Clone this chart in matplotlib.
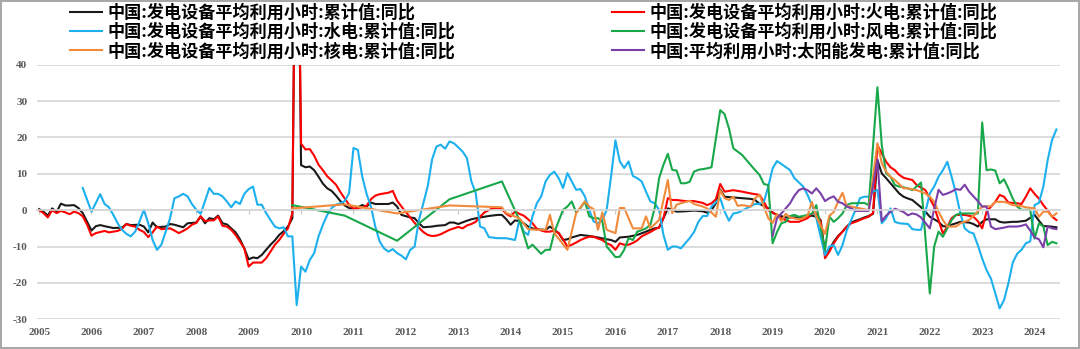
import matplotlib
matplotlib.use('Agg')
import matplotlib.pyplot as plt
from matplotlib.font_manager import FontProperties

plt.rcParams['font.family'] = ['Liberation Serif', 'DejaVu Serif']
plt.rcParams['axes.unicode_minus'] = False

# values, yoy %, by month ('YYYY-MM')
total_months = ['2005-01', '2005-02', '2005-03', '2005-04', '2005-05', '2005-06', '2005-07', '2005-08', '2005-09', '2005-10', '2005-11', '2005-12',
                '2006-01', '2006-02', '2006-03', '2006-04', '2006-06', '2006-08', '2006-09', '2006-10', '2006-12',
                '2007-01', '2007-02', '2007-03', '2007-04', '2007-06', '2007-07', '2007-08', '2007-10', '2007-11',
                '2008-01', '2008-02', '2008-03', '2008-04', '2008-05', '2008-06', '2008-07', '2008-08', '2008-09', '2008-10', '2008-11', '2008-12',
                '2009-01', '2009-02', '2009-03', '2009-04', '2009-05', '2009-06', '2009-07', '2009-08', '2009-09', '2009-10', '2009-11', '2009-12',
                '2010-01', '2010-02', '2010-03', '2010-04', '2010-05', '2010-06', '2010-07', '2010-08', '2010-09', '2010-10', '2010-11', '2010-12',
                '2011-01', '2011-02', '2011-03', '2011-04', '2011-05', '2011-06', '2011-08', '2011-09', '2011-10', '2011-11', '2011-12',
                '2012-02', '2012-03', '2012-04', '2012-05', '2012-07', '2012-08', '2012-10', '2012-11', '2012-12',
                '2013-01', '2013-03', '2013-04', '2013-06', '2013-08', '2013-10', '2013-11', '2013-12',
                '2014-01', '2014-02', '2014-03', '2014-04', '2014-05', '2014-06', '2014-07', '2014-09', '2014-10', '2014-11', '2014-12',
                '2015-01', '2015-02', '2015-03', '2015-05', '2015-07', '2015-09', '2015-11', '2015-12',
                '2016-01', '2016-02', '2016-04', '2016-06', '2016-08', '2016-09', '2016-10', '2016-11', '2016-12',
                '2017-01', '2017-02', '2017-03', '2017-05', '2017-07', '2017-09', '2017-10', '2017-11', '2017-12',
                '2018-01', '2018-02', '2018-04', '2018-06', '2018-08', '2018-09', '2018-10', '2018-11', '2018-12',
                '2019-01', '2019-02', '2019-04', '2019-06', '2019-08', '2019-09', '2019-10', '2019-11', '2019-12',
                '2020-01', '2020-02', '2020-03', '2020-04', '2020-05', '2020-06', '2020-07', '2020-08', '2020-09', '2020-10', '2020-11', '2020-12',
                '2021-01', '2021-02', '2021-03', '2021-04', '2021-05', '2021-06', '2021-07', '2021-08', '2021-09', '2021-10', '2021-11', '2021-12',
                '2022-01', '2022-03', '2022-04', '2022-05', '2022-06', '2022-07', '2022-08', '2022-10', '2022-11', '2022-12',
                '2023-01', '2023-02', '2023-04', '2023-05', '2023-06', '2023-08', '2023-09', '2023-11',
                '2024-01', '2024-02', '2024-03', '2024-04', '2024-06']
total_yoy = [0.3, -0.4, -1.5, 0.5, -0.5, 1.8, 1.3, 1.3, 1.4, 0.6, -0.8, -3.2,
             -5.6, -4.4, -4.1, -4.4, -4.9, -4.8, -3.8, -4.1, -4.0,
             -4.5, -6.1, -3.4, -4.7, -4.5, -3.8, -4.0, -4.7, -3.6,
             -3.4, -1.7, -3.6, -2.2, -2.5, -1.5, -3.6, -3.9, -5.0, -6.1, -8.0, -10.5,
             -13.5, -13.0, -13.2, -12.3, -10.9, -9.5, -8.3, -6.8, -5.8, -4.5, -2.2, 120.0,
             12.4, 11.8, 12.0, 11.0, 9.2, 7.3, 6.0, 5.3, 4.0, 2.5, 1.3, 0.6,
             0.2, 0.8, 1.4, 1.0, 2.1, 1.7, 1.7, 1.7, 2.1, 1.0, -1.3,
             -2.0, -2.2, -3.6, -4.7, -4.5, -4.3, -4.1, -3.4, -3.4,
             -3.8, -2.9, -2.5, -2.0, -1.6, -1.3, -1.3, -2.5,
             -4.0, -2.8, -3.0, -3.6, -4.5, -5.0, -5.3, -5.4, -4.5, -5.4, -6.3,
             -8.2, -8.0, -7.5, -6.8, -7.1, -7.5, -8.0, -8.2,
             -8.7, -7.5, -7.3, -6.8, -5.9, -5.4, -5.0, -4.8, -2.2,
             0.5, 0.1, -0.4, -0.3, -0.1, -0.3, -0.7, 0.0, 1.9,
             5.7, 3.7, 3.5, 3.3, 3.1, 2.8, 1.7, 1.2, 0.5,
             -0.7, -1.3, -2.0, -2.0, -2.0, -1.8, -1.5, -1.8, -2.7,
             -12.0, -10.8, -8.7, -7.1, -5.9, -4.5, -3.4, -2.9, -2.5, -2.0, -1.6, -1.0,
             13.8, 10.1, 8.8, 7.4, 6.0, 4.6, 3.7, 3.2, 2.8, 1.8, 0.8, -0.4,
             -1.8, -3.2, -4.4, -4.5, -4.0, -3.6, -3.2, -3.4, -3.8, -4.5,
             -3.2, -2.5, -2.5, -3.2, -3.4, -3.2, -3.2, -2.9,
             -1.3, -2.9, -4.4, -4.4, -4.7]

thermal_months = ['2005-01', '2005-02', '2005-03', '2005-04', '2005-05', '2005-06', '2005-07', '2005-08', '2005-09', '2005-10', '2005-11', '2005-12',
                  '2006-01', '2006-02', '2006-03', '2006-04', '2006-05', '2006-06', '2006-07', '2006-08', '2006-09', '2006-10', '2006-11', '2006-12',
                  '2007-01', '2007-02', '2007-03', '2007-04', '2007-05', '2007-06', '2007-07', '2007-08', '2007-09', '2007-10', '2007-11', '2007-12',
                  '2008-01', '2008-02', '2008-03', '2008-04', '2008-05', '2008-06', '2008-07', '2008-08', '2008-09', '2008-10', '2008-11', '2008-12',
                  '2009-01', '2009-02', '2009-03', '2009-04', '2009-05', '2009-06', '2009-07', '2009-08', '2009-09', '2009-10', '2009-11', '2009-12',
                  '2010-01', '2010-02', '2010-03', '2010-04', '2010-05', '2010-06', '2010-07', '2010-08', '2010-09', '2010-10', '2010-11', '2010-12',
                  '2011-01', '2011-02', '2011-03', '2011-04', '2011-05', '2011-06', '2011-07', '2011-08', '2011-09', '2011-10', '2011-11', '2011-12',
                  '2012-02', '2012-03', '2012-04', '2012-05', '2012-06', '2012-07', '2012-08', '2012-09', '2012-10', '2012-11', '2012-12',
                  '2013-01', '2013-02', '2013-03', '2013-04', '2013-05', '2013-06', '2013-07', '2013-08', '2013-09', '2013-10', '2013-11', '2013-12',
                  '2014-01', '2014-02', '2014-03', '2014-04', '2014-05', '2014-06', '2014-07', '2014-08', '2014-09', '2014-10', '2014-11', '2014-12',
                  '2015-01', '2015-02', '2015-03', '2015-04', '2015-05', '2015-06', '2015-07', '2015-08', '2015-09', '2015-10', '2015-11', '2015-12',
                  '2016-01', '2016-02', '2016-03', '2016-04', '2016-05', '2016-06', '2016-07', '2016-08', '2016-09', '2016-10', '2016-11', '2016-12',
                  '2017-01', '2017-02', '2017-03', '2017-05', '2017-07', '2017-09', '2017-10', '2017-11', '2017-12',
                  '2018-01', '2018-02', '2018-04', '2018-06', '2018-08', '2018-10', '2018-11', '2018-12',
                  '2019-02', '2019-03', '2019-05', '2019-07', '2019-09', '2019-10', '2019-11', '2019-12',
                  '2020-01', '2020-02', '2020-03', '2020-04', '2020-05', '2020-06', '2020-07', '2020-08', '2020-09', '2020-10', '2020-11', '2020-12',
                  '2021-01', '2021-02', '2021-03', '2021-04', '2021-05', '2021-06', '2021-07', '2021-08', '2021-09', '2021-10', '2021-12',
                  '2022-01', '2022-02', '2022-03', '2022-04', '2022-05', '2022-06', '2022-07', '2022-09', '2022-11', '2022-12',
                  '2023-01', '2023-02', '2023-04', '2023-05', '2023-06', '2023-07', '2023-09', '2023-10', '2023-11', '2023-12',
                  '2024-01', '2024-02', '2024-03', '2024-04', '2024-05', '2024-06']
thermal_yoy = [0.0, -0.8, -2.0, 0.0, -0.8, -0.2, -0.6, -1.1, -0.4, -0.8, -1.7, -4.0,
               -7.0, -6.3, -6.0, -5.7, -6.1, -5.9, -5.7, -5.1, -3.8, -4.3, -4.5, -5.4,
               -6.0, -7.4, -6.1, -4.5, -5.2, -5.1, -5.0, -5.6, -6.3, -5.7, -5.0, -4.0,
               -3.5, -1.7, -3.0, -2.8, -2.8, -1.7, -4.3, -4.5, -5.4, -6.8, -8.6, -10.5,
               -15.5, -14.4, -14.4, -14.4, -13.2, -11.4, -9.5, -8.2, -6.5, -5.0, -0.8, 120.0,
               18.3, 16.7, 16.8, 15.0, 12.5, 11.0, 9.3, 8.2, 7.0, 5.0, 3.2, 1.5,
               0.4, 0.6, 0.8, 1.2, 3.0, 4.0, 4.4, 4.6, 4.8, 5.3, 2.6, 1.0,
               -2.0, -3.5, -4.8, -6.0, -6.8, -7.1, -7.0, -6.6, -6.0, -5.4, -5.0,
               -4.6, -5.0, -4.2, -3.8, -3.2, -1.8, -0.6, 0.0, 0.6, 0.6, 0.3, -1.0,
               -1.7, -0.4, -1.0, -1.5, -2.5, -3.6, -5.1, -5.6, -5.9, -5.9, -5.6, -6.3,
               -8.0, -10.0, -9.5, -8.9, -8.2, -7.7, -7.3, -7.3, -7.8, -8.2, -9.1, -9.6,
               -10.9, -9.1, -9.5, -9.5, -9.0, -8.3, -7.2, -6.6, -6.0, -5.3, -4.7, -2.2,
               3.3, 2.8, 2.8, 2.5, 2.5, 2.0, 1.4, 1.9, 3.0,
               7.2, 5.1, 5.5, 5.1, 4.6, 4.2, 2.3, 0.0,
               -1.3, -2.2, -3.2, -3.2, -2.2, -0.9, -0.9, -3.0,
               -13.2, -11.4, -9.1, -7.3, -5.9, -4.5, -3.6, -3.2, -2.7, -2.2, -1.8, -0.8,
               17.9, 15.6, 13.3, 11.8, 11.0, 9.7, 8.9, 8.6, 8.3, 6.9, 5.5,
               3.2, 1.0, -2.7, -6.4, -4.6, -2.2, -1.3, -1.3, -1.8, -3.0,
               -5.0, -0.4, 2.3, 4.2, 3.7, 2.1, 1.9, 1.7, 3.7, 6.0,
               4.5, 3.2, 1.4, -0.1, -1.8, -2.7]

hydro_months = ['2005-11',
                '2006-01', '2006-03', '2006-04', '2006-05', '2006-06', '2006-07', '2006-08', '2006-09', '2006-10', '2006-11', '2006-12',
                '2007-01', '2007-02', '2007-03', '2007-04', '2007-05', '2007-06', '2007-07', '2007-08', '2007-09', '2007-10', '2007-11', '2007-12',
                '2008-01', '2008-02', '2008-03', '2008-04', '2008-05', '2008-06', '2008-07', '2008-08', '2008-09', '2008-10', '2008-11', '2008-12',
                '2009-01', '2009-02', '2009-03', '2009-04', '2009-05', '2009-06', '2009-07', '2009-08', '2009-09', '2009-10', '2009-11', '2009-12',
                '2010-01', '2010-02', '2010-03', '2010-04', '2010-05', '2010-06', '2010-07', '2010-08', '2010-09', '2010-10', '2010-11', '2010-12',
                '2011-01', '2011-02', '2011-03', '2011-04', '2011-05', '2011-06', '2011-07', '2011-08', '2011-09', '2011-10', '2011-11', '2011-12',
                '2012-01', '2012-02', '2012-03', '2012-04', '2012-05', '2012-06', '2012-07', '2012-08', '2012-09', '2012-10', '2012-11', '2012-12',
                '2013-01', '2013-02', '2013-03', '2013-04', '2013-05', '2013-06', '2013-07', '2013-08', '2013-10', '2013-12',
                '2014-02', '2014-03', '2014-04', '2014-05', '2014-06', '2014-07', '2014-08', '2014-09', '2014-10', '2014-11', '2014-12',
                '2015-01', '2015-02', '2015-03', '2015-04', '2015-05', '2015-06', '2015-07', '2015-08', '2015-09', '2015-10', '2015-11', '2015-12',
                '2016-01', '2016-02', '2016-03', '2016-04', '2016-05', '2016-06', '2016-07', '2016-08', '2016-09', '2016-10', '2016-11', '2016-12',
                '2017-01', '2017-02', '2017-03', '2017-04', '2017-05', '2017-06', '2017-07', '2017-08', '2017-09', '2017-10', '2017-11',
                '2018-01', '2018-02', '2018-03', '2018-04', '2018-05', '2018-07', '2018-09', '2018-10', '2018-11', '2018-12',
                '2019-01', '2019-02', '2019-03', '2019-05', '2019-06', '2019-08', '2019-09', '2019-10', '2019-11',
                '2020-01', '2020-02', '2020-03', '2020-04', '2020-05', '2020-06', '2020-07', '2020-08', '2020-09', '2020-10', '2020-11', '2020-12',
                '2021-01', '2021-02', '2021-03', '2021-04', '2021-05', '2021-06', '2021-07', '2021-08', '2021-09', '2021-10', '2021-11', '2021-12',
                '2022-01', '2022-02', '2022-03', '2022-04', '2022-05', '2022-06', '2022-07', '2022-08', '2022-09', '2022-10', '2022-11', '2022-12',
                '2023-01', '2023-02', '2023-03', '2023-04', '2023-05', '2023-06', '2023-07', '2023-08', '2023-09', '2023-10', '2023-11', '2023-12',
                '2024-01', '2024-02', '2024-03', '2024-04', '2024-05', '2024-06']
hydro_yoy = [6.1,
             -0.4, 4.4, 1.7, 0.8, -1.3, -3.6, -5.4, -6.5, -7.2, -5.9, -3.1,
             0.1, -3.6, -8.2, -10.9, -9.5, -5.9, -2.2, 3.3, 3.8, 4.5, 3.8, 1.7,
             0.1, -1.0, 2.5, 6.1, 4.5, 4.5, 3.8, 2.4, 0.8, 2.4, 1.7, 4.5,
             5.8, 6.5, 1.5, 1.5, -0.8, -2.7, -4.5, -5.0, -4.7, -7.2, -7.2, -26.1,
             -15.5, -16.9, -13.7, -11.8, -7.2, -4.0, -1.3, 0.6, 1.5, 1.9, 2.5, 4.7,
             17.1, 16.6, 9.3, 4.5, 1.0, -4.5, -8.6, -10.5, -11.4, -10.7, -11.8, -12.5,
             -13.5, -10.9, -10.0, -2.7, 1.9, 6.5, 13.9, 17.5, 18.0, 16.9, 18.9, 18.4,
             17.3, 16.1, 14.3, 7.9, 4.7, -4.5, -5.0, -7.4, -7.7, -7.7,
             -8.2, -2.7, -5.9, -6.8, -1.7, 1.9, 3.8, 7.9, 9.7, 10.6, 8.8,
             6.1, 10.2, 7.9, 5.6, 5.8, 3.8, 0.1, -3.1, -3.6, -2.7, 0.1, 9.3,
             19.2, 13.4, 11.6, 13.4, 9.4, 8.8, 7.9, 5.1, 2.4, 1.9, 0.1, -6.8,
             -10.9, -10.0, -10.0, -10.5, -9.1, -7.7, -6.0, -3.2, -1.6, -1.6, 1.0,
             3.3, -0.4, -2.9, -0.9, -0.7, 0.5, 1.7, 1.7, 2.3, 6.5,
             11.5, 13.5, 12.7, 11.0, 8.8, 6.5, 4.2, 1.4, -2.2,
             -12.3, -10.0, -9.6, -12.3, -9.6, -5.5, -2.7, 0.1, 3.3, 3.7, 3.7, 5.1,
             5.6, -3.6, -2.2, 0.5, -3.2, -3.6, -3.7, -3.8, -5.2, -5.4, -5.4, -0.4,
             4.6, 6.5, 9.2, 11.0, 13.3, 9.2, 4.6, -0.9, -5.0, -6.0, -6.4, -9.6,
             -13.3, -16.5, -18.8, -22.9, -27.0, -24.7, -20.1, -14.4, -12.0, -10.9, -9.1, -8.6,
             1.4, 2.0, 6.5, 13.8, 19.3, 22.2]

wind_months = ['2009-11', '2010-11', '2011-11', '2012-11', '2013-11',
               '2014-03', '2014-05', '2014-06', '2014-08', '2014-09', '2014-10', '2014-11',
               '2015-01', '2015-02', '2015-03', '2015-04', '2015-05', '2015-06', '2015-07', '2015-08', '2015-09', '2015-10', '2015-11', '2015-12',
               '2016-01', '2016-02', '2016-03', '2016-04', '2016-05', '2016-06', '2016-07', '2016-08', '2016-09', '2016-10', '2016-11', '2016-12',
               '2017-01', '2017-02', '2017-03', '2017-04', '2017-05', '2017-06', '2017-07', '2017-08', '2017-10', '2017-11',
               '2018-01', '2018-02', '2018-03', '2018-04', '2018-05', '2018-06', '2018-07', '2018-08', '2018-09', '2018-10', '2018-11', '2018-12',
               '2019-01', '2019-02', '2019-03', '2019-04', '2019-05', '2019-06', '2019-07', '2019-08', '2019-10', '2019-11',
               '2020-01', '2020-02', '2020-03', '2020-04', '2020-05', '2020-06', '2020-07', '2020-08', '2020-10', '2020-11',
               '2021-01', '2021-02', '2021-03', '2021-04', '2021-05', '2021-06', '2021-08', '2021-09', '2021-11',
               '2022-01', '2022-02', '2022-03', '2022-04', '2022-05', '2022-06', '2022-07', '2022-08', '2022-10', '2022-12',
               '2023-01', '2023-02', '2023-03', '2023-04', '2023-05', '2023-06', '2023-07', '2023-08', '2023-09', '2023-10', '2023-12',
               '2024-01', '2024-02', '2024-03', '2024-04', '2024-05', '2024-06']
wind_yoy = [1.4, -1.5, -8.4, 3.0, 7.9,
            -2.7, -10.5, -9.5, -12.0, -10.9, -10.9, -6.1,
            0.1, 1.0, 2.4, -0.6, 0.6, 2.4, -1.7, -2.2, -2.2, -3.1, -10.0, -11.4,
            -12.9, -12.8, -10.9, -7.7, -8.2, -5.9, -5.5, -5.0, -4.0, 0.6, 8.8, 12.5,
            15.5, 11.1, 10.9, 7.4, 7.4, 7.8, 10.6, 11.1, 11.5, 11.8,
            27.5, 26.4, 22.5, 17.0, 16.1, 15.2, 13.8, 12.4, 11.0, 9.7, 7.2, 6.9,
            -9.1, -6.0, -3.6, -3.2, -1.6, -1.3, -1.8, -1.6, -1.0, 1.4,
            -11.0, -1.8, -3.2, -2.2, -0.9, 1.4, 1.9, 1.9, 2.0, 1.4,
            33.8, 17.9, 10.1, 9.2, 6.9, 6.5, 6.0, 5.5, 7.6,
            -22.9, -10.0, -5.9, -7.3, -5.0, -2.7, -1.3, -0.9, -0.9, -0.9,
            24.1, 11.0, 11.2, 10.9, 7.4, 8.5, 6.0, 3.2, 1.0, 0.1, 0.1,
            -7.8, -3.6, -4.5, -9.6, -8.7, -9.1]

nuclear_months = ['2009-11', '2010-11', '2011-11', '2012-11', '2013-11', '2013-12',
                  '2014-03', '2014-05', '2014-07', '2014-09', '2014-10', '2014-11',
                  '2015-02', '2015-03', '2015-04', '2015-06', '2015-07', '2015-08', '2015-09', '2015-10', '2015-11',
                  '2016-01', '2016-02', '2016-03', '2016-04', '2016-05', '2016-07', '2016-08', '2016-09', '2016-11',
                  '2017-01', '2017-02', '2017-03', '2017-04', '2017-06', '2017-07', '2017-09', '2017-10', '2017-12',
                  '2018-01', '2018-02', '2018-03', '2018-04', '2018-05', '2018-06', '2018-08', '2018-09', '2018-10', '2018-11', '2018-12',
                  '2019-01', '2019-02', '2019-03', '2019-04', '2019-05', '2019-07', '2019-08', '2019-09', '2019-10', '2019-11',
                  '2020-01', '2020-02', '2020-03', '2020-04', '2020-05', '2020-06', '2020-07', '2020-09', '2020-11',
                  '2021-01', '2021-02', '2021-03', '2021-04', '2021-05', '2021-07', '2021-08', '2021-10', '2021-12',
                  '2022-01', '2022-02', '2022-03', '2022-04', '2022-05', '2022-07', '2022-08', '2022-10', '2022-12',
                  '2023-01', '2023-03', '2023-04', '2023-06', '2023-07', '2023-08', '2023-10', '2023-11',
                  '2024-01', '2024-02', '2024-03', '2024-04', '2024-05', '2024-06']
nuclear_yoy = [0.5, 1.6, -0.9, 1.3, 0.8, -0.8,
               -2.2, -5.2, -5.4, -5.4, -1.3, -6.3,
               -10.9, -5.9, -0.8, 2.4, 1.0, 0.3, -5.4, -0.6, -5.4,
               -6.3, 0.6, 0.6, -2.2, -5.0, -5.0, -1.7, -5.0, -2.7,
               8.3, -0.8, 1.5, 1.9, 2.6, 1.7, 1.0, 0.5, -1.8,
               5.5, 3.3, 2.8, 3.7, 1.2, 1.4, 1.0, 3.3, 4.2, 1.0, -2.2,
               -3.5, -1.0, -3.0, -1.0, -2.0, -2.5, -2.2, -1.5, 2.3, -1.8,
               -6.5, -1.5, -0.5, 2.4, 4.8, 1.0, 1.0, 0.5, 0.0,
               18.4, 12.9, 10.6, 9.2, 8.3, 6.0, 6.0, 5.5, 4.6,
               3.7, 2.3, -0.4, -2.7, -4.5, -4.5, -3.6, -2.7, -0.4,
               1.0, 1.1, 2.3, 2.3, 1.9, 1.4, 1.1, 0.8,
               0.5, -1.8, -0.4, -0.4, -1.8, -0.9]

solar_months = ['2019-01', '2019-02', '2019-03', '2019-04', '2019-05', '2019-06', '2019-07', '2019-08', '2019-09', '2019-10', '2019-11', '2019-12',
                '2020-01', '2020-02', '2020-03', '2020-04', '2020-05', '2020-06', '2020-07', '2020-08', '2020-11',
                '2021-01', '2021-02', '2021-03', '2021-04', '2021-05', '2021-06', '2021-07', '2021-08', '2021-09', '2021-10', '2021-11', '2021-12',
                '2022-01', '2022-03', '2022-04', '2022-05', '2022-06', '2022-07', '2022-08', '2022-09', '2022-10', '2022-11', '2022-12',
                '2023-01', '2023-02', '2023-03', '2023-04', '2023-05', '2023-06', '2023-07', '2023-08', '2023-09', '2023-10', '2023-11', '2023-12',
                '2024-01', '2024-02', '2024-03', '2024-04', '2024-05', '2024-06']
solar_yoy = [-7.0, -2.2, -0.9, 0.5, 1.9, 4.0, 5.5, 6.0, 5.5, 4.6, 6.0, 4.6,
             2.5, 3.3, 3.8, 2.3, 1.9, 1.0, 0.5, -0.2, -0.2,
             13.9, -3.0, -1.5, -0.5, 0.4, 0.0, -0.5, -1.4, -0.9, -1.2, -2.0, -3.5,
             -5.0, 5.6, 4.2, 4.6, 5.1, 5.8, 5.6, 7.0, 5.1, 3.8, 2.5,
             1.0, 1.0, -4.5, -5.2, -5.0, -4.8, -4.5, -4.5, -4.5, -4.3, -3.9, -5.6,
             -7.5, -8.0, -10.2, -4.5, -5.0, -5.2]

series = [
    ('中国:发电设备平均利用小时:累计值:同比', total_months, total_yoy, '#1a1a1a'),
    ('中国:发电设备平均利用小时:火电:累计值:同比', thermal_months, thermal_yoy, '#ff0000'),
    ('中国:发电设备平均利用小时:水电:累计值:同比', hydro_months, hydro_yoy, '#1cb0ee'),
    ('中国:发电设备平均利用小时:风电:累计值:同比', wind_months, wind_yoy, '#18a84a'),
    ('中国:发电设备平均利用小时:核电:累计值:同比', nuclear_months, nuclear_yoy, '#f28a3c'),
    ('中国:平均利用小时:太阳能发电:累计值:同比', solar_months, solar_yoy, '#7b3fa8'),
]
years = list(range(2005, 2025))


def to_year(m):
    y, mo = m.split('-')
    return int(y) + (int(mo) - 1) / 12


fig = plt.figure(figsize=(10.8, 3.49), dpi=100, edgecolor='#a8a8a8', linewidth=1.5)
ax = fig.add_axes([37 / 1080, 1 - 319.3 / 349, 1023 / 1080, 254.6 / 349])

lines = {}
for name, months, vals, color in series:
    x = [to_year(m) for m in months]
    ln, = ax.plot(x, vals, color=color, lw=1.5, solid_joinstyle='round')
    lines[name] = ln

ax.set_xlim(2004.96, 2024.485)
ax.set_ylim(-30, 40)
ax.set_yticks(range(-30, 41, 10))
ax.grid(axis='y', color='#d6d6d6', lw=1.2)
ax.set_axisbelow(True)
for s in ['top', 'right', 'left']:
    ax.spines[s].set_visible(False)

# x axis crosses at 0, labels sit at the bottom
ax.spines['bottom'].set_position(('data', 0))
ax.spines['bottom'].set_color('#d6d6d6')
ax.spines['bottom'].set_linewidth(1.2)
ax.set_xticks(years)
ax.tick_params(axis='x', direction='out', length=3, color='#c8c8c8', labelbottom=False)
ax.tick_params(axis='y', length=0, pad=7, labelsize=8, labelcolor='#595959')
for lab in ax.get_yticklabels():
    lab.set_fontweight('bold')

secax = ax.secondary_xaxis('bottom')
secax.set_xticks(years, [str(y) for y in years])
secax.tick_params(length=0, pad=6, labelsize=8, labelcolor='#595959')
secax.spines['bottom'].set_visible(False)
for lab in secax.get_xticklabels():
    lab.set_fontweight('bold')

leg_font = FontProperties(family=['Noto Sans CJK SC', 'DejaVu Sans'], weight='bold', size=12.3)
left_names = [series[0][0], series[2][0], series[4][0]]
right_names = [series[1][0], series[3][0], series[5][0]]
for names, x0 in [(left_names, 70), (right_names, 612)]:
    fig.legend([lines[n] for n in names], names, loc='upper left',
               bbox_to_anchor=(x0 / 1080, 1 - 3.5 / 349), frameon=False, prop=leg_font,
               handlelength=1.85, handletextpad=0.35, labelspacing=0.08,
               borderpad=0, borderaxespad=0)

fig.savefig('out.png', dpi=100)
